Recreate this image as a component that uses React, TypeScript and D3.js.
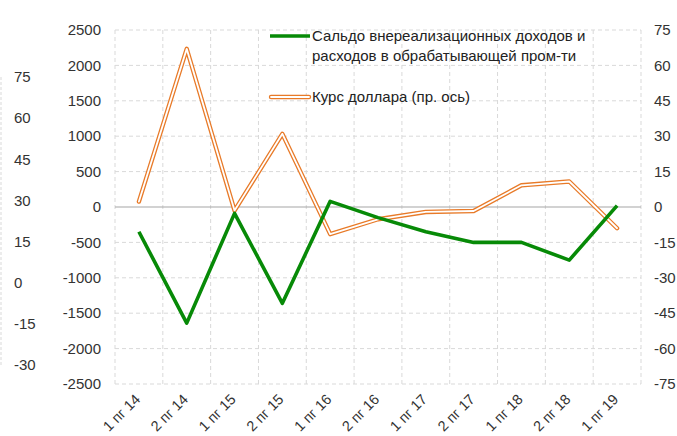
import React from "react";
import * as d3 from "d3";

const categories = ["1 пг 14", "2 пг 14", "1 пг 15", "2 пг 15", "1 пг 16", "2 пг 16", "1 пг 17", "2 пг 17", "1 пг 18", "2 пг 18", "1 пг 19"];
const saldo = [-350, -1640, -90, -1360, 80, -150, -350, -500, -500, -750, 20];
const usdRate = [2.3, 67, -1.5, 31, -11.5, -5.2, -2.1, -1.7, 9.2, 10.8, -9];
const leftTicks = [-2500, -2000, -1500, -1000, -500, 0, 500, 1000, 1500, 2000, 2500];
const rightTicks = [-75, -60, -45, -30, -15, 0, 15, 30, 45, 60, 75];
const ghostTicks = [-30, -15, 0, 15, 30, 45, 60, 75];
const legendSaldo = ["Сальдо внереализационных  доходов и", "расходов в обрабатывающей  пром-ти"];
const legendUsd = "Курс доллара (пр. ось)";

const W = 677, H = 436;
const L = 115, R = 641, T = 30, B = 384;
const FONT = "'Liberation Sans', Arial, sans-serif";
const GREEN = "#078a07";
const ORANGE = "#e87a28";

export default function App() {
  const x = d3.scaleBand<string>().domain(categories).range([L, R]);
  const yL = d3.scaleLinear().domain([-2500, 2500]).range([B, T]);
  const yR = d3.scaleLinear().domain([-75, 75]).range([B, T]);
  const yG = d3.scaleLinear().domain([-30, 75]).range([365, 77]);
  const cx = (c: string) => (x(c) as number) + x.bandwidth() / 2;

  const lineL = d3.line<number>().x((_, i) => cx(categories[i])).y((d) => yL(d));
  const lineR = d3.line<number>().x((_, i) => cx(categories[i])).y((d) => yR(d));

  const boundaries = categories.map((c) => x(c) as number).concat([R]);
  const grid = "#d9d9d9";

  return (
    <svg width={W} height={H} style={{ position: "absolute", left: 0, top: 0, background: "#fff" }} fontFamily={FONT}>
      {/* horizontal grid */}
      {leftTicks.map((t) => t !== 0 && (
        <line key={"h" + t} x1={L} x2={R} y1={yL(t)} y2={yL(t)} stroke={grid} strokeDasharray="4,3" strokeWidth={1} />
      ))}
      {/* vertical grid */}
      {boundaries.map((b, i) => (
        <line key={"v" + i} x1={b} x2={b} y1={T} y2={B} stroke={grid} strokeDasharray="4,3" strokeWidth={1} />
      ))}
      {/* zero line */}
      <line x1={L} x2={R} y1={yL(0)} y2={yL(0)} stroke="#a6a6a6" strokeWidth={1.2} />

      {/* ghost left axis */}
      <line x1={1} x2={1} y1={yG(75)} y2={yG(-30)} stroke={grid} strokeDasharray="3,2" strokeWidth={1} />
      {ghostTicks.map((t) => (
        <text key={"g" + t} x={14} y={yG(t)} dy="0.35em" fontSize={15} fill="#333">{t}</text>
      ))}

      {/* left axis labels */}
      {leftTicks.map((t) => (
        <text key={"l" + t} x={101} y={yL(t)} dy="0.35em" fontSize={15} fill="#333" textAnchor="end">{t}</text>
      ))}
      {/* right axis labels */}
      {rightTicks.map((t) => (
        <text key={"r" + t} x={654} y={yR(t)} dy="0.35em" fontSize={15} fill="#333">{t}</text>
      ))}

      {/* x labels */}
      {categories.map((c) => (
        <text key={"x" + c} transform={`translate(${cx(c) - 5},${B + 9}) rotate(-45)`} textAnchor="end" dy="0.7em" fontSize={14.5} fill="#333">{c}</text>
      ))}

      {/* lines */}
      <path d={lineR(usdRate) as string} fill="none" stroke={ORANGE} strokeWidth={4.4} strokeLinejoin="round" strokeLinecap="round" />
      <path d={lineR(usdRate) as string} fill="none" stroke="#fff" strokeWidth={1.8} strokeLinejoin="round" strokeLinecap="round" />
      <path d={lineL(saldo) as string} fill="none" stroke={GREEN} strokeWidth={3.6} strokeLinejoin="round" />

      {/* legend */}
      <line x1={270} x2={310} y1={36} y2={36} stroke={GREEN} strokeWidth={3.6} />
      <text x={312} y={36} dy="0.35em" fontSize={15} fill="#222">{legendSaldo[0]}</text>
      <text x={312} y={56} dy="0.35em" fontSize={15} fill="#222">{legendSaldo[1]}</text>
      <line x1={271} x2={309} y1={97} y2={97} stroke={ORANGE} strokeWidth={4.4} strokeLinecap="round" />
      <line x1={271} x2={309} y1={97} y2={97} stroke="#fff" strokeWidth={1.8} strokeLinecap="round" />
      <text x={312} y={97} dy="0.35em" fontSize={15} fill="#222">{legendUsd}</text>
    </svg>
  );
}
